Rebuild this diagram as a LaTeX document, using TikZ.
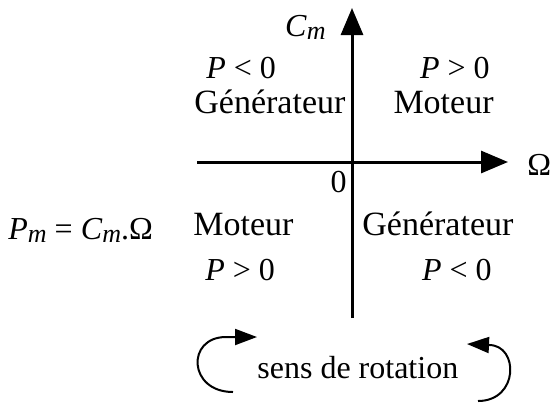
\documentclass[tikz,border=0pt]{standalone}
\usepackage{fontspec}
\setmainfont{Liberation Serif}
\usetikzlibrary{arrows.meta}

\tikzset{
  axis/.style={line width=1.5pt,-{Triangle[length=13.5pt,width=11pt]}},
  turn/.style={line width=1pt,-{Triangle[length=11pt,width=8pt]}},
  lbl/.style={inner sep=0pt,font=\fontsize{16}{19}\selectfont},
  word/.style={lbl,font=\fontsize{17}{20}\selectfont},
}
\newcommand{\pv}[1]{\textit{#1}}
\newcommand{\subm}{\raisebox{-0.12em}{\fontsize{13}{15}\selectfont\itshape m}}

\begin{document}
\begin{tikzpicture}[x=0.5pt,y=-0.5pt]
\useasboundingbox (0,0) rectangle (551,403);
% axes
\coordinate (o) at (352,162);
\coordinate (wl) at (197,162);
\coordinate (wr) at (508,162);
\coordinate (cb) at (352,318);
\coordinate (ct) at (352,8);
\draw[axis] (wl) -- (wr);
\draw[axis] (cb) -- (ct);
\node[lbl,anchor=base west] (omega) at (527,175) {Ω};
\node[lbl,anchor=base east] (cm) at (326,36) {\pv{C}\subm};
\node[lbl,anchor=base east] (zero) at (347,192) {0};
% quadrants
\node[lbl,anchor=base west] (p1) at (206,78) {\pv{P} < 0};
\node[word,anchor=base west] (g1) at (194,113) {Générateur};
\node[lbl,anchor=base east] (p2) at (490,78) {\pv{P} > 0};
\node[word,anchor=base east] (m2) at (494,113) {Moteur};
\node[word,anchor=base west] (m3) at (193,235) {Moteur};
\node[lbl,anchor=base west] (p3) at (205,280) {\pv{P} > 0};
\node[word,anchor=base west] (g4) at (362,235) {Générateur};
\node[lbl,anchor=base east] (p4) at (492,280) {\pv{P} < 0};
\node[lbl,anchor=base west] (pm) at (8,239) {\pv{P}\subm{} = \pv{C}\subm.Ω};
% sens de rotation
\node[lbl,anchor=base west] (sens) at (257,378) {sens de rotation};
\coordinate (la) at (233,392);
\coordinate (lb) at (226,337);
\coordinate (lt) at (257,337);
\coordinate (ra) at (478,401);
\coordinate (rb) at (489,345);
\coordinate (rt) at (467,344);
\draw[turn] (la) .. controls (188,392) and (186,337) .. (lb) -- (lt);
\draw[turn] (ra) .. controls (519,401) and (519,345) .. (rb) -- (rt);
\end{tikzpicture}
\end{document}
